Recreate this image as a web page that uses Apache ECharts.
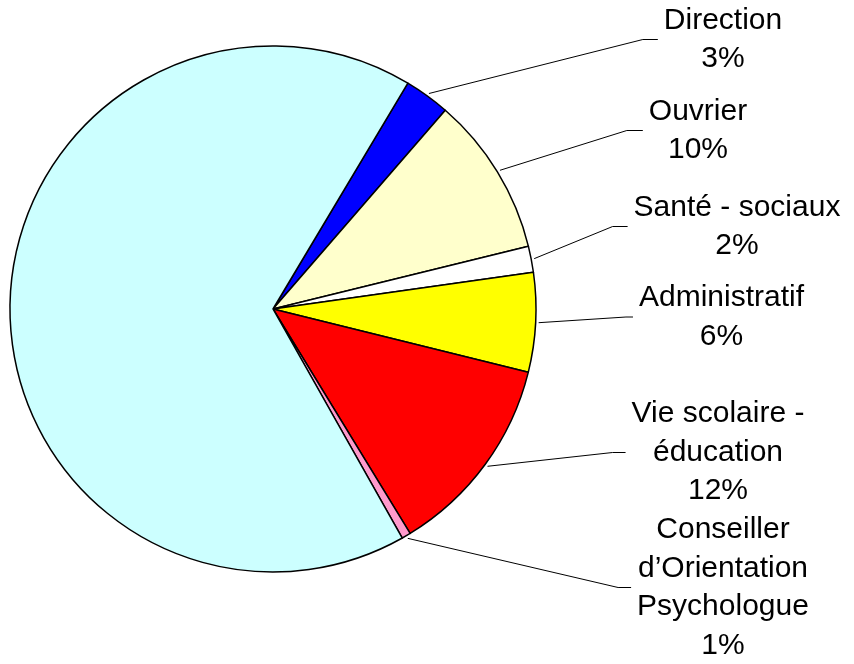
<!DOCTYPE html>
<html>
<head>
<meta charset="utf-8">
<script src="https://cdn.jsdelivr.net/npm/echarts@6/dist/echarts.min.js"></script>
<style>
  html, body { margin: 0; padding: 0; background: #fff; }
  #chart { width: 854px; height: 664px; }
</style>
</head>
<body>
<div id="chart"></div>
<script>
// ---- data ----
var categories = [
  'Direction',
  'Ouvrier',
  'Santé - sociaux',
  'Administratif',
  'Vie scolaire -\néducation',
  'Conseiller\nd\u2019Orientation\nPsychologue',
  ''
];
var values = [2.8, 9.8, 1.6, 6.1, 12.4, 0.55, 66.75];
var showLabel = [true, true, true, true, true, true, false];

// ---- styles / layout (kept apart from data) ----
var colors = ['#0000FF', '#FFFFCC', '#FFFFFF', '#FFFF00', '#FF0000', '#FF99CC', '#CCFFFF'];
var labelCenters = [[723, 39.5], [698, 130.5], [737, 226.5], [721.5, 317], [718, 452.5], [723, 587.5]];
var elbowLen = [15, 16, 15, 7, 13, 13];
var pieCenter = [273, 309];
var pieRadius = 263;

var chart = echarts.init(document.getElementById('chart'), null, { renderer: 'canvas' });

var seriesData = categories.map(function (c, i) {
  return {
    name: c,
    value: values[i],
    itemStyle: { color: colors[i] },
    label: { show: showLabel[i] },
    labelLine: { show: showLabel[i] }
  };
});

chart.setOption({
  animation: false,
  backgroundColor: '#ffffff',
  series: [{
    type: 'pie',
    center: pieCenter,
    radius: pieRadius,
    startAngle: 59.15,
    clockwise: true,
    avoidLabelOverlap: false,
    silent: true,
    itemStyle: { borderColor: '#000000', borderWidth: 1.5 },
    emphasis: { disabled: true },
    label: {
      position: 'outside',
      color: '#000000',
      fontFamily: '"Liberation Sans", Arial, sans-serif',
      fontSize: 30,
      lineHeight: 38.5,
      align: 'center',
      formatter: function (p) {
        return p.name + '\n' + Math.round(p.percent) + '%';
      }
    },
    labelLine: {
      show: true,
      length: 20,
      length2: 15,
      lineStyle: { color: '#000000', width: 1 }
    },
    labelLayout: function (p) {
      var i = p.dataIndex;
      var pos = labelCenters[i];
      if (!pos || !p.labelLinePoints) { return {}; }
      var w = p.labelRect.width;
      var left = pos[0] - w / 2;
      var end = [left - 6, pos[1]];
      var elbow = [left - 6 - elbowLen[i], pos[1]];
      var s = p.labelLinePoints[0];
      var dx = s[0] - pieCenter[0], dy = s[1] - pieCenter[1];
      var d = Math.sqrt(dx * dx + dy * dy) || 1;
      var start = [pieCenter[0] + dx / d * (pieRadius + 3), pieCenter[1] + dy / d * (pieRadius + 3)];
      return {
        x: pos[0],
        y: pos[1],
        align: 'center',
        verticalAlign: 'middle',
        labelLinePoints: [start, elbow, end]
      };
    },
    data: seriesData
  }]
});
</script>
</body>
</html>
